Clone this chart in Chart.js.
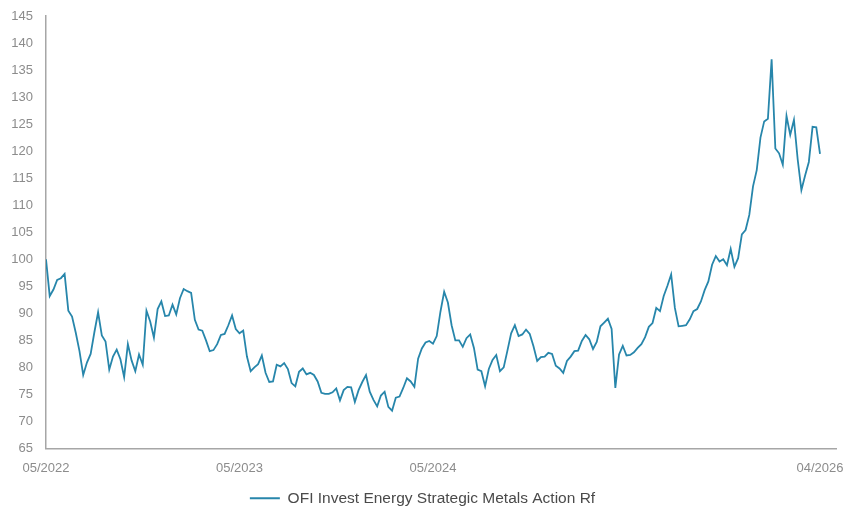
<!DOCTYPE html>
<html>
<head>
<meta charset="utf-8">
<script src="https://cdn.jsdelivr.net/npm/chart.js@4.4.1/dist/chart.umd.min.js"></script>
<style>
  html, body { margin: 0; padding: 0; background: #fff; }
  #wrap { width: 845px; height: 506px; position: relative; }
</style>
</head>
<body>
<div id="wrap"><canvas id="chart"></canvas></div>
<script>
/* Weekly values (base 100, start 05/2022) */
const seriesName = 'OFI Invest Energy Strategic Metals Action Rf';

const weeklyValues = [
  100, 93.2, 94.4, 96.2, 96.5, 97.3, 90.5, 89.4, 86.4, 83,
  78.6, 80.9, 82.5, 86.5, 90.2, 85.9, 84.8, 79.6, 82, 83.3,
  81.5, 78.2, 84.3, 81.3, 79.3, 82.4, 80.5, 90.5, 88.5, 85.5,
  90.8, 92.2, 89.5, 89.6, 91.6, 89.8, 92.8, 94.5, 94.1, 93.8,
  88.8, 87, 86.8, 85, 83, 83.2, 84.3, 86, 86.2, 87.8,
  89.6, 87.1, 86.3, 86.8, 82, 79.3, 80, 80.6, 82.2, 79,
  77.3, 77.4, 80.5, 80.2, 80.8, 79.7, 77.1, 76.5, 79.2, 79.8,
  78.7, 79, 78.6, 77.4, 75.3, 75.1, 75.1, 75.4, 76.1, 73.9,
  75.8, 76.4, 76.3, 73.6, 75.8, 77.3, 78.6, 75.5, 74, 72.8,
  74.8, 75.5, 72.7, 72, 74.4, 74.6, 76.2, 78, 77.4, 76.4,
  81.6, 83.5, 84.6, 84.9, 84.4, 85.8, 90.3, 94, 92, 87.8,
  85, 85, 83.8, 85.4, 86.1, 83.6, 79.6, 79.3, 76.5, 79.7,
  81.4, 82.3, 79.3, 80, 83.1, 86.3, 87.8, 85.8, 86.1, 87,
  86.2, 83.9, 81.2, 81.9, 82, 82.7, 82.5, 80.3, 79.8, 79,
  81.2, 82, 83, 83.1, 84.9, 86, 85.2, 83.4, 84.7, 87.6,
  88.3, 89, 87.1, 76.2, 82.4, 84, 82.2, 82.3, 82.8, 83.6,
  84.3, 85.6, 87.5, 88.2, 91, 90.4, 93.2, 95.1, 97.2, 91,
  87.6, 87.7, 87.8, 88.9, 90.4, 90.8, 92.2, 94.3, 95.9, 99,
  100.6, 99.6, 100, 98.9, 101.9, 98.6, 100.2, 104.6, 105.4, 108.2,
  113.5, 116.5, 122.5, 125.5, 126, 137, 120.5, 119.6, 117.5, 126.5,
  123, 125.8, 118.5, 112.8, 115.5, 118, 124.5, 124.4, 119.5
];

// x ticks (in weeks since start) and their labels
const xTickWeeks  = [0, 52, 104, 208];
const xTickLabels = ['05/2022', '05/2023', '05/2024', '04/2026'];

// y axis range
const yMin = 65, yMax = 145, yStep = 5;

const LINE_COLOR = '#2786ab';
const TICK_COLOR = '#8c8c8c';
const AXIS_COLOR = '#a6a6a6';
const FONT = 'Arial, "Liberation Sans", sans-serif';

const points = weeklyValues.map((v, i) => ({ x: i, y: v }));

new Chart(document.getElementById('chart'), {
  type: 'line',
  data: {
    datasets: [{
      label: seriesName,
      data: points,
      borderColor: LINE_COLOR,
      backgroundColor: LINE_COLOR,
      borderWidth: 1.8,
      pointRadius: 0,
      tension: 0
    }]
  },
  options: {
    responsive: true,
    maintainAspectRatio: false,
    animation: false,
    devicePixelRatio: 1,
    // negative bottom padding pushes the legend row down to the image edge
    layout: { padding: { top: 16, right: 0, left: 0, bottom: -10 } },
    plugins: {
      tooltip: { enabled: false },
      legend: {
        position: 'bottom',
        labels: {
          color: '#4a4a4a',
          boxWidth: 30,
          boxHeight: 2,
          padding: 2,
          font: { family: FONT, size: 15.5 },
          // plain line marker, no outline around the box
          generateLabels: chart =>
            Chart.defaults.plugins.legend.labels.generateLabels(chart)
              .map(l => Object.assign(l, { lineWidth: 0 }))
        }
      }
    },
    scales: {
      x: {
        type: 'linear',
        min: 0,
        max: 212.3,
        grid: { display: false, drawTicks: false },
        border: { display: true, color: AXIS_COLOR, width: 1.5 },
        afterBuildTicks: scale => { scale.ticks = xTickWeeks.map(v => ({ value: v })); },
        afterFit: scale => {
          scale.height = 40;
          scale.paddingRight = 9;
          scale.paddingLeft = 0;
        },
        ticks: {
          color: TICK_COLOR,
          padding: 12,
          maxRotation: 0,
          autoSkip: false,
          font: { family: FONT, size: 13 },
          callback: v => {
            const k = xTickWeeks.indexOf(v);
            return k >= 0 ? xTickLabels[k] : '';
          }
        }
      },
      y: {
        min: yMin,
        max: yMax,
        grid: { display: false, drawTicks: false },
        border: { display: true, color: AXIS_COLOR, width: 1.5 },
        afterFit: scale => {
          scale.width = 46;
          scale.paddingTop = 0;
          scale.paddingBottom = 0;
        },
        ticks: {
          stepSize: yStep,
          color: TICK_COLOR,
          padding: 13,
          font: { family: FONT, size: 13 }
        }
      }
    }
  }
});
</script>
</body>
</html>
